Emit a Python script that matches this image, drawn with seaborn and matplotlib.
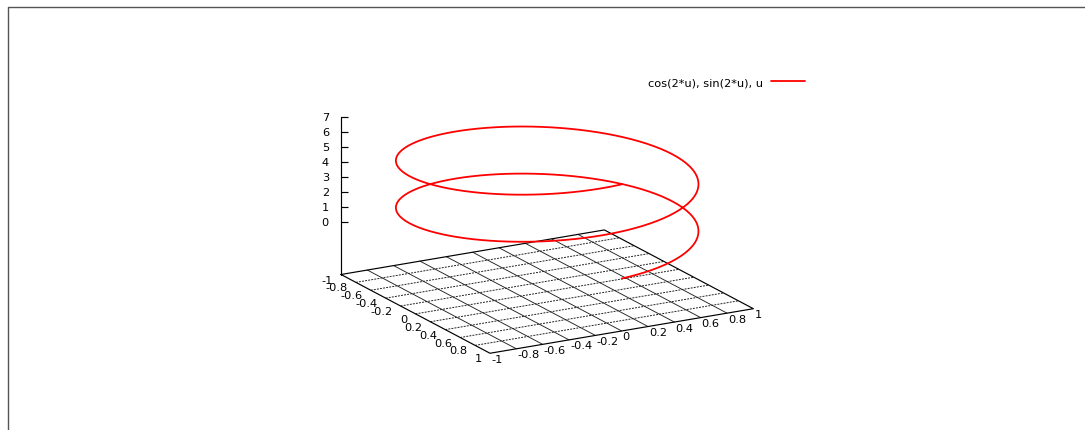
import numpy as np
import matplotlib
matplotlib.use('Agg')
import matplotlib.pyplot as plt
from mpl_toolkits.mplot3d import proj3d
import seaborn as sns

# parametric curve as given in the key: cos(2*u), sin(2*u), u
curve_label = 'cos(2*u), sin(2*u), u'
u_start = 0.0
u_end = 2 * np.pi
n_samples = 400

x_ticks = [-1, -0.8, -0.6, -0.4, -0.2, 0, 0.2, 0.4, 0.6, 0.8, 1]
x_tick_labels = ['-1', '-0.8', '-0.6', '-0.4', '-0.2', '0', '0.2', '0.4', '0.6', '0.8', '1']
y_ticks = [-1, -0.8, -0.6, -0.4, -0.2, 0, 0.2, 0.4, 0.6, 0.8, 1]
y_tick_labels = ['-1', '-0.8', '-0.6', '-0.4', '-0.2', '0', '0.2', '0.4', '0.6', '0.8', '1']
z_ticks = [0, 1, 2, 3, 4, 5, 6, 7]
z_tick_labels = ['0', '1', '2', '3', '4', '5', '6', '7']
z_min, z_max = 0, 7
ticslevel = 0.5

sns.set_theme(style='white')
plt.rcParams['font.family'] = ['DejaVu Sans']
plt.rcParams['text.color'] = 'black'

W, H = 1085, 431
FS = 8.2
fig = plt.figure(figsize=(W / 100, H / 100), dpi=100)
ax = fig.add_axes([-0.5, -1.5, 2, 4], projection='3d')
ax.set_proj_type('ortho')
ax.view_init(elev=17.4, azim=-29.5)
BOX = (2, 2, 1.09)
ax.set_box_aspect(BOX, zoom=1)
ax.set_axis_off()

z_base = z_min - ticslevel * (z_max - z_min)
ax.set_xlim(-1, 1)
ax.set_ylim(-1, 1)
ax.set_zlim(z_base, z_max)

u = np.linspace(u_start, u_end, n_samples)
xs = np.cos(2 * u)
ys = np.sin(2 * u)
zs = u

# base plane grid
for xt in x_ticks[1:-1]:
    ax.plot([xt, xt], [-1, 1], [z_base, z_base], color='#222222', lw=0.7,
            ls=(0, (2, 1.2)))
for yt in y_ticks[1:-1]:
    ax.plot([-1, 1], [yt, yt], [z_base, z_base], color='#222222', lw=0.65)
# base border
ax.plot([-1, 1, 1, -1, -1], [-1, -1, 1, 1, -1], [z_base] * 5, color='black', lw=0.85)
# z axis
ax.plot([-1, -1], [-1, -1], [z_base, z_max], color='black', lw=0.85)
ax.plot([-1] * len(z_ticks), [-1] * len(z_ticks), z_ticks, ls='none',
        marker=1, markersize=5, markeredgewidth=0.85, color='black')

line, = ax.plot(xs, ys, zs, color='#ff0000', lw=1.3, label=curve_label)

# fit the projected base into place
target_left = (341, H - 275.5)
target_front = (490, H - 353.5)


def to_px(x, y, z):
    X, Y, _ = proj3d.proj_transform(x, y, z, ax.get_proj())
    return ax.transData.transform((X, Y))


fig.canvas.draw()
pL = to_px(-1, -1, z_base)
pF = to_px(1, -1, z_base)
k = (target_front[0] - target_left[0]) / (pF[0] - pL[0])
ax.set_box_aspect(BOX, zoom=k)
fig.canvas.draw()
pL = to_px(-1, -1, z_base)
pos = ax.get_position(original=True)
ax.set_position([pos.x0 + (target_left[0] - pL[0]) / W,
                 pos.y0 + (target_left[1] - pL[1]) / H,
                 pos.width, pos.height])
fig.canvas.draw()


def label_at(x, y, z, s, dx, dy, ha):
    px, py = to_px(x, y, z)
    fig.text((px + dx) / W, (py + dy) / H, s, ha=ha, va='center', fontsize=FS)


# tick labels
for xt, lab in zip(x_ticks, x_tick_labels):
    label_at(xt, -1, z_base, lab, -8, -5, 'right')
for yt, lab in zip(y_ticks, y_tick_labels):
    label_at(1, yt, z_base, lab, 1, -5.5, 'left')
for zt, lab in zip(z_ticks, z_tick_labels):
    label_at(-1, -1, zt, lab, -12, 0, 'right')

fig.legend(handles=[line], loc='center right', bbox_to_anchor=(811 / W, 1 - 83 / H),
           bbox_transform=fig.transFigure, frameon=False, fontsize=FS,
           markerfirst=False, handlelength=3.05, handletextpad=0.7, borderpad=0)

# screenshot frame on the left and top
fig.add_artist(plt.Line2D([7.5 / W, 7.5 / W, 1.0], [0, 1 - 7.5 / H, 1 - 7.5 / H],
                          color='#555555', lw=1))

fig.savefig('out.png', dpi=100)
